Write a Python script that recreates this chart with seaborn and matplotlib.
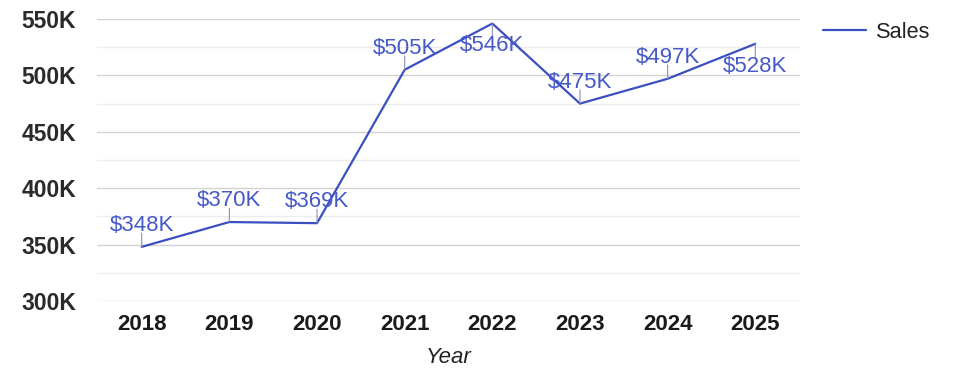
import matplotlib
matplotlib.use("Agg")
import matplotlib.pyplot as plt
import seaborn as sns
import pandas as pd
from matplotlib.ticker import MultipleLocator, FuncFormatter

years = [2018, 2019, 2020, 2021, 2022, 2023, 2024, 2025]
sales = [348000, 370000, 369000, 505000, 546000, 475000, 497000, 528000]
labels = ["$348K", "$370K", "$369K", "$505K", "$546K", "$475K", "$497K", "$528K"]
label_side = ["above", "above", "above", "above", "below", "above", "above", "below"]

df = pd.DataFrame({"Year": years, "Sales": sales})

sns.set_theme(style="white")
plt.rcParams["font.family"] = ["Liberation Sans", "DejaVu Sans"]

fig = plt.figure(figsize=(9.75, 3.78), dpi=100)
ax = fig.add_axes([97 / 975, 1 - 301 / 378, (800 - 97) / 975, (301 - 19) / 378])

line_color = "#3c4fc1"
sns.lineplot(data=df, x="Year", y="Sales", ax=ax, color=line_color, linewidth=1.6, label="Sales")

ax.set_xlim(2017.49, 2025.51)
ax.set_ylim(300000, 550000)
ax.set_xticks(years)
ax.set_xticklabels([str(y) for y in years])
ax.yaxis.set_major_locator(MultipleLocator(50000))
ax.yaxis.set_minor_locator(MultipleLocator(25000))
ax.yaxis.set_major_formatter(FuncFormatter(lambda v, p: f"{int(v/1000)}K"))
ax.grid(axis="y", which="major", color="#d2d2d2", linewidth=1.0)
ax.grid(axis="y", which="minor", color="#ededed", linewidth=1.0)
ax.grid(axis="x", visible=False)
for s in ax.spines.values():
    s.set_visible(False)
ax.tick_params(axis="both", which="both", length=0)
ax.tick_params(axis="y", pad=15, labelsize=16.5, labelcolor="#2a2a2a")
ax.tick_params(axis="x", pad=9, labelsize=16, labelcolor="#1a1a1a")
for t in ax.get_xticklabels() + ax.get_yticklabels():
    t.set_fontweight("bold")

ax.set_ylabel("")
ax.set_xlabel("Year", fontsize=16, fontstyle="italic", color="#222222", labelpad=9)

label_color = "#4659c8"
leader_color = "#8a8fb0"
for x, y, lab, side in zip(years, sales, labels, label_side):
    sgn = 1 if side == "above" else -1
    # leader line
    ax.annotate("", xy=(x, y), xytext=(0, sgn * 10), textcoords="offset points",
                arrowprops=dict(arrowstyle="-", color=leader_color, lw=0.8,
                                shrinkA=0, shrinkB=0))
    ax.annotate(lab, xy=(x, y), xytext=(0, sgn * (11.5 if sgn > 0 else 8.5)),
                textcoords="offset points", ha="center",
                va="baseline" if sgn > 0 else "top",
                fontsize=16, color=label_color)

leg = ax.legend(loc="upper left", bbox_to_anchor=(803 / 975, 1 - 2 / 378),
                bbox_transform=fig.transFigure, frameon=False, fontsize=15.7,
                handlelength=2.0, handletextpad=0.45)
for t in leg.get_texts():
    t.set_color("#222222")

fig.savefig("out.png", dpi=100, facecolor="white")
